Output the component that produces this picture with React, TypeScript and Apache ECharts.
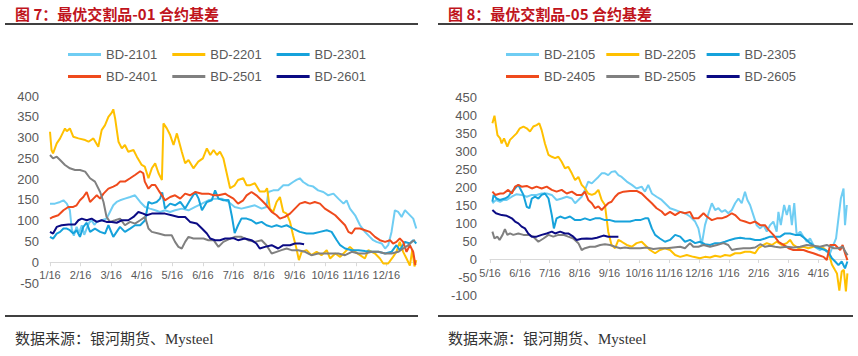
import React, { useEffect, useRef } from "react";
import * as echarts from "echarts";

// ---------- tick labels ----------
const monthsLeft = ["1/16", "2/16", "3/16", "4/16", "5/16", "6/16", "7/16", "8/16", "9/16", "10/16", "11/16", "12/16"];
const monthsRight = ["5/16", "6/16", "7/16", "8/16", "9/16", "10/16", "11/16", "12/16", "1/16", "2/16", "3/16", "4/16"];

// ---------- series names ----------
const namesLeft = ["BD-2101", "BD-2201", "BD-2301", "BD-2401", "BD-2501", "BD-2601"];
const namesRight = ["BD-2105", "BD-2205", "BD-2305", "BD-2405", "BD-2505", "BD-2605"];

// ---------- data: [month offset from x-axis start, basis] ----------
const bd2101 = [[0,141],[0.16,141],[0.33,145],[0.44,149],[0.55,141],[0.65,125],[0.71,81],[0.78,64],[0.87,85],[0.95,70],[1.04,89],[1.12,66],[1.2,81],[1.28,95],[1.36,101],[1.45,90],[1.53,97],[1.69,101],[1.85,105],[1.96,121],[2.07,137],[2.18,145],[2.29,149],[2.45,153],[2.62,157],[2.78,161],[2.95,145],[3.11,133],[3.27,129],[3.44,125],[3.6,121],[3.76,125],[3.93,121],[4.09,125],[4.31,129],[4.53,125],[4.75,133],[4.97,141],[5.18,149],[5.4,153],[5.62,153],[5.84,145],[6.04,133],[6.26,129],[6.48,133],[6.7,137],[6.92,129],[7.08,133],[7.14,169],[7.3,173],[7.46,173],[7.63,185],[7.79,185],[7.95,193],[8.06,198],[8.17,202],[8.28,193],[8.45,185],[8.61,182],[8.77,173],[8.94,169],[9.1,161],[9.27,165],[9.43,153],[9.6,141],[9.7,149],[9.81,129],[9.98,113],[10.14,89],[10.3,73],[10.46,61],[10.57,53],[10.68,49],[10.85,45],[10.96,33],[11.06,41],[11.17,73],[11.28,125],[11.39,121],[11.5,109],[11.61,125],[11.72,117],[11.88,105],[11.98,81]];
const bd2201 = [[0,314],[0.05,270],[0.1,262],[0.22,286],[0.33,298],[0.49,322],[0.55,315],[0.65,322],[0.76,302],[0.93,298],[1.15,294],[1.26,290],[1.42,298],[1.58,278],[1.69,318],[1.8,330],[1.91,350],[2.02,360],[2.07,368],[2.13,346],[2.2,310],[2.24,290],[2.35,274],[2.45,282],[2.56,266],[2.73,270],[2.84,254],[3.0,234],[3.1,230],[3.22,202],[3.33,226],[3.44,238],[3.55,214],[3.66,198],[3.71,334],[3.82,322],[3.93,306],[4.04,282],[4.15,310],[4.31,266],[4.42,238],[4.53,246],[4.69,226],[4.85,242],[5.0,250],[5.13,274],[5.24,258],[5.35,270],[5.46,258],[5.56,266],[5.67,250],[5.78,214],[5.89,178],[6.04,185],[6.15,198],[6.32,202],[6.43,185],[6.53,185],[6.7,190],[6.86,170],[7.03,170],[7.1,178],[7.19,129],[7.3,121],[7.41,145],[7.52,157],[7.63,121],[7.74,117],[7.85,97],[7.95,65],[8.06,33],[8.14,5],[8.23,25],[8.39,29],[8.55,17],[8.72,25],[8.88,17],[9.05,29],[9.16,9],[9.33,21],[9.49,13],[9.65,25],[9.81,37],[9.98,25],[10.14,17],[10.3,9],[10.41,29],[10.63,21],[10.79,9],[10.9,-3],[11.06,-3],[11.22,13],[11.33,25],[11.44,49],[11.55,25],[11.66,9],[11.77,-8],[11.85,30],[11.92,-10],[11.98,5]];
const bd2301 = [[0,61],[0.1,57],[0.22,69],[0.33,73],[0.44,81],[0.55,81],[0.65,77],[0.76,69],[0.87,77],[0.98,61],[1.09,85],[1.2,95],[1.31,73],[1.47,81],[1.64,73],[1.8,69],[1.91,89],[2.07,61],[2.18,73],[2.29,85],[2.45,73],[2.62,81],[2.78,89],[2.95,89],[3.11,101],[3.22,145],[3.33,141],[3.49,145],[3.6,153],[3.67,168],[3.76,129],[3.93,141],[4.09,137],[4.26,145],[4.42,129],[4.58,149],[4.75,169],[4.86,153],[4.97,125],[5.13,145],[5.29,149],[5.4,173],[5.51,153],[5.67,149],[5.84,150],[5.95,110],[6.04,70],[6.15,89],[6.26,105],[6.43,105],[6.59,101],[6.75,93],[6.92,97],[7.08,89],[7.25,85],[7.41,89],[7.57,85],[7.74,89],[7.95,81],[8.17,73],[8.39,69],[8.61,69],[8.83,73],[9.05,77],[9.21,73],[9.38,53],[9.49,41],[9.65,33],[9.87,29],[10.09,29],[10.3,27],[10.52,25],[10.74,25],[10.96,21],[11.17,25],[11.33,41],[11.44,29],[11.61,49],[11.77,45],[11.88,53],[11.98,45]];
const bd2401 = [[0,105],[0.1,109],[0.27,113],[0.44,125],[0.6,133],[0.76,133],[0.87,137],[0.98,149],[1.09,157],[1.2,169],[1.31,145],[1.42,153],[1.53,161],[1.64,153],[1.75,165],[1.91,177],[2.07,182],[2.18,186],[2.29,194],[2.45,194],[2.62,202],[2.78,210],[2.95,219],[3.05,214],[3.1,194],[3.22,177],[3.33,186],[3.44,186],[3.55,173],[3.66,161],[3.76,149],[3.93,157],[4.09,161],[4.26,153],[4.42,165],[4.58,161],[4.75,169],[4.97,165],[5.18,165],[5.35,161],[5.51,161],[5.73,165],[5.83,160],[6.0,153],[6.15,141],[6.32,149],[6.43,161],[6.59,169],[6.75,161],[6.92,149],[7.08,137],[7.25,121],[7.41,113],[7.52,105],[7.68,109],[7.85,117],[8.01,129],[8.17,141],[8.34,145],[8.5,141],[8.66,145],[8.83,141],[8.99,129],[9.16,121],[9.33,113],[9.49,101],[9.65,89],[9.76,73],[9.87,69],[9.98,81],[10.14,81],[10.3,77],[10.46,73],[10.63,61],[10.79,53],[10.96,49],[11.12,53],[11.22,45],[11.33,49],[11.44,57],[11.55,49],[11.66,25],[11.77,41],[11.88,25],[11.95,-7]];
const bd2501 = [[0,258],[0.1,250],[0.22,254],[0.33,246],[0.49,234],[0.65,226],[0.82,222],[0.98,222],[1.15,218],[1.31,202],[1.47,194],[1.64,169],[1.75,145],[1.85,109],[1.96,97],[2.13,101],[2.29,105],[2.45,89],[2.62,97],[2.78,93],[2.95,101],[3.11,109],[3.22,81],[3.33,73],[3.55,69],[3.76,65],[3.98,65],[4.09,49],[4.2,37],[4.31,33],[4.42,49],[4.53,61],[4.69,57],[4.86,57],[5.02,57],[5.18,53],[5.35,53],[5.51,37],[5.67,49],[5.84,55],[6.04,61],[6.26,61],[6.48,53],[6.7,49],[6.92,53],[7.08,41],[7.25,21],[7.41,25],[7.57,29],[7.74,33],[7.9,29],[8.12,29],[8.34,25],[8.55,17],[8.77,21],[8.99,21],[9.21,21],[9.43,21],[9.65,17],[9.87,25],[10.09,21],[10.3,21],[10.52,25],[10.74,25],[10.96,21],[11.17,21],[11.39,25],[11.55,33],[11.72,41],[11.83,49],[11.94,53]];
const bd2601 = [[0,73],[0.1,69],[0.22,85],[0.38,89],[0.6,91],[0.82,91],[0.93,101],[1.04,105],[1.2,101],[1.36,105],[1.53,97],[1.69,101],[1.85,97],[2.02,97],[2.18,95],[2.35,101],[2.56,101],[2.73,109],[2.89,121],[3.05,117],[3.16,113],[3.33,117],[3.55,117],[3.76,117],[3.98,113],[4.2,109],[4.42,109],[4.58,97],[4.8,93],[4.97,81],[5.13,69],[5.24,57],[5.4,53],[5.56,53],[5.73,57],[5.89,57],[6.0,58],[6.15,53],[6.37,57],[6.59,53],[6.75,45],[6.86,33],[7.03,37],[7.25,41],[7.46,33],[7.63,41],[7.85,41],[8.01,45],[8.17,45],[8.31,43]];

const bd2105 = [[0.08,155],[0.2,164],[0.34,159],[0.45,164],[0.56,164],[0.73,173],[0.89,180],[1.06,178],[1.23,173],[1.4,178],[1.56,178],[1.73,182],[1.9,182],[2.07,178],[2.23,164],[2.4,168],[2.57,173],[2.74,168],[2.85,155],[2.96,164],[3.07,173],[3.18,192],[3.29,215],[3.41,210],[3.52,219],[3.63,228],[3.74,238],[3.85,238],[3.96,233],[4.07,242],[4.19,244],[4.3,233],[4.41,228],[4.58,215],[4.75,206],[4.91,196],[5.08,201],[5.19,187],[5.3,206],[5.42,182],[5.58,173],[5.75,164],[5.86,155],[6.03,141],[6.2,136],[6.37,131],[6.53,127],[6.7,118],[6.87,104],[6.98,85],[7.09,39],[7.2,94],[7.32,127],[7.43,155],[7.54,136],[7.65,141],[7.76,131],[7.87,136],[7.98,127],[8.1,136],[8.21,155],[8.32,168],[8.43,155],[8.54,187],[8.62,164],[8.71,150],[8.82,122],[8.93,94],[9.05,85],[9.16,94],[9.27,76],[9.38,94],[9.49,104],[9.6,76],[9.66,131],[9.74,94],[9.85,150],[9.94,122],[10.03,150],[10.11,94],[10.19,155],[10.27,67],[10.39,76],[10.5,62],[10.61,48],[10.72,57],[10.83,39],[10.94,30],[11.05,25],[11.17,30],[11.28,20],[11.39,16],[11.5,39],[11.59,57],[11.67,113],[11.75,168],[11.84,196],[11.89,94],[11.95,150]];
const bd2205 = [[0.08,377],[0.15,398],[0.25,344],[0.34,335],[0.39,321],[0.47,335],[0.58,312],[0.67,331],[0.78,340],[0.89,349],[1.0,363],[1.12,368],[1.23,363],[1.34,354],[1.45,368],[1.56,372],[1.65,377],[1.73,358],[1.84,321],[1.96,289],[2.07,284],[2.18,280],[2.29,284],[2.4,270],[2.51,252],[2.62,256],[2.74,238],[2.85,219],[2.96,228],[3.07,206],[3.18,196],[3.29,182],[3.41,178],[3.52,182],[3.63,192],[3.74,164],[3.85,150],[3.96,76],[4.07,39],[4.19,30],[4.3,53],[4.41,48],[4.58,39],[4.75,34],[4.91,44],[5.08,48],[5.19,39],[5.36,25],[5.53,16],[5.69,25],[5.86,30],[6.03,25],[6.2,11],[6.37,6],[6.59,11],[6.81,6],[7.03,2],[7.2,6],[7.37,4],[7.54,9],[7.71,6],[7.87,11],[8.04,9],[8.21,16],[8.38,16],[8.54,20],[8.71,20],[8.88,16],[8.99,30],[9.16,39],[9.27,44],[9.44,39],[9.6,48],[9.77,39],[9.94,44],[10.05,53],[10.16,39],[10.33,30],[10.5,34],[10.66,30],[10.83,34],[10.99,34],[11.17,30],[11.33,20],[11.45,-15],[11.55,-30],[11.62,-40],[11.7,-88],[11.78,-35],[11.85,-30],[11.92,-90],[11.97,-40]];
const bd2305 = [[0.08,159],[0.12,178],[0.22,168],[0.33,164],[0.5,168],[0.61,173],[0.73,187],[0.84,196],[0.95,206],[1.01,196],[1.12,178],[1.23,145],[1.32,141],[1.4,168],[1.51,173],[1.62,168],[1.73,178],[1.84,182],[1.96,168],[2.07,122],[2.14,85],[2.23,113],[2.35,118],[2.51,113],[2.68,118],[2.85,108],[3.02,108],[3.18,113],[3.35,108],[3.52,113],[3.69,113],[3.85,108],[4.02,108],[4.19,104],[4.36,104],[4.52,104],[4.69,104],[4.86,108],[5.03,108],[5.19,113],[5.3,113],[5.42,85],[5.53,67],[5.69,57],[5.86,48],[6.03,53],[6.2,67],[6.37,62],[6.53,48],[6.7,53],[6.87,44],[7.03,48],[7.2,41],[7.37,39],[7.54,44],[7.71,44],[7.87,48],[8.04,53],[8.21,57],[8.38,59],[8.54,57],[8.71,56],[8.88,53],[9.05,53],[9.21,57],[9.38,62],[9.55,62],[9.72,62],[9.88,71],[10.05,71],[10.22,67],[10.39,67],[10.55,57],[10.72,44],[10.89,34],[11.05,30],[11.22,25],[11.33,20],[11.45,2],[11.56,-7],[11.67,-17],[11.78,-7],[11.89,-26],[11.97,-7]];
const bd2405 = [[0.08,187],[0.18,178],[0.34,182],[0.45,182],[0.61,192],[0.73,182],[0.84,201],[0.95,206],[1.06,201],[1.23,203],[1.4,196],[1.56,201],[1.73,196],[1.9,201],[2.07,192],[2.23,187],[2.4,192],[2.57,182],[2.74,187],[2.9,178],[3.07,178],[3.18,187],[3.29,164],[3.41,155],[3.52,141],[3.63,146],[3.74,136],[3.85,146],[3.96,155],[4.07,159],[4.19,173],[4.3,182],[4.47,187],[4.69,189],[4.91,189],[5.08,182],[5.25,168],[5.42,155],[5.58,141],[5.75,132],[5.86,122],[6.03,131],[6.2,122],[6.37,131],[6.53,127],[6.7,131],[6.81,113],[6.98,113],[7.15,127],[7.26,118],[7.43,108],[7.6,113],[7.76,113],[7.93,118],[8.1,127],[8.21,122],[8.38,108],[8.54,104],[8.71,99],[8.88,104],[9.05,94],[9.21,94],[9.33,81],[9.49,67],[9.66,48],[9.83,39],[10.0,30],[10.16,25],[10.33,25],[10.5,25],[10.66,20],[10.83,16],[10.99,11],[11.17,6],[11.28,-3],[11.39,39],[11.56,39],[11.73,25],[11.81,39],[11.89,16],[11.97,-3]];
const bd2505 = [[0.08,76],[0.15,57],[0.25,62],[0.32,53],[0.42,67],[0.5,83],[0.58,67],[0.67,71],[0.78,67],[0.95,71],[1.12,67],[1.28,67],[1.45,62],[1.62,48],[1.79,57],[1.96,67],[2.12,62],[2.29,67],[2.46,67],[2.62,62],[2.79,57],[2.96,44],[3.07,25],[3.18,30],[3.35,34],[3.52,34],[3.69,39],[3.85,41],[4.02,39],[4.19,34],[4.36,30],[4.52,32],[4.69,30],[4.86,30],[5.03,30],[5.25,32],[5.47,28],[5.69,30],[5.92,30],[6.14,32],[6.37,34],[6.53,30],[6.7,44],[6.81,34],[6.98,34],[7.15,39],[7.37,34],[7.6,39],[7.82,44],[7.98,39],[8.1,25],[8.26,28],[8.49,30],[8.71,30],[8.88,32],[9.05,41],[9.21,34],[9.38,37],[9.55,34],[9.72,32],[9.94,34],[10.16,32],[10.39,34],[10.61,39],[10.83,37],[11.05,34],[11.28,39],[11.5,30],[11.67,30],[11.81,34],[11.93,16],[11.98,11]];
const bd2605 = [[0.08,136],[0.2,127],[0.39,122],[0.56,120],[0.73,113],[0.84,104],[0.95,99],[1.06,90],[1.17,85],[1.28,71],[1.4,62],[1.56,62],[1.73,67],[1.9,71],[2.07,76],[2.18,71],[2.35,76],[2.51,71],[2.62,71],[2.79,62],[2.9,53],[3.07,56],[3.24,57],[3.41,56],[3.58,59],[3.8,65],[3.96,62],[4.13,62],[4.3,62]];

const dataLeft = [bd2101, bd2201, bd2301, bd2401, bd2501, bd2601];
const dataRight = [bd2105, bd2205, bd2305, bd2405, bd2505, bd2605];
const colors = ["#6FCDF3", "#FFC000", "#16A2DB", "#EF4A1C", "#808080", "#0B0B84"];

const LABEL = "#595959";
const SANS = "'Liberation Sans', Arial, sans-serif";

function xAxisFor(gridIndex: number, labels: string[], margin: number) {
  return {
    type: "value",
    gridIndex,
    min: 0,
    max: 11.99,
    interval: 1,
    axisLine: { onZero: true, lineStyle: { color: "#D9D9D9", width: 1 } },
    axisTick: { show: true, length: 4, lineStyle: { color: "#D9D9D9" } },
    splitLine: { show: false },
    axisLabel: {
      color: LABEL,
      fontSize: 11,
      fontFamily: SANS,
      margin,
      showMaxLabel: false,
      formatter: (v: number) => labels[Math.round(v)] ?? "",
    },
  };
}

function yAxisFor(gridIndex: number, min: number, max: number, margin: number) {
  return {
    type: "value",
    gridIndex,
    min,
    max,
    interval: 50,
    axisLine: { show: false },
    axisTick: { show: false },
    splitLine: { show: false },
    axisLabel: { color: LABEL, fontSize: 13, fontFamily: SANS, margin },
  };
}

function legendRow(names: string[], left: number, top: number, gap: number) {
  return {
    data: names,
    left,
    top,
    orient: "horizontal",
    icon: "rect",
    itemWidth: 33,
    itemHeight: 3,
    itemGap: gap,
    padding: 0,
    selectedMode: false,
    textStyle: { color: LABEL, fontSize: 13, fontFamily: SANS },
  };
}

export default function App() {
  const ref = useRef<HTMLDivElement>(null);

  useEffect(() => {
    document.body.style.margin = "0";
    if (!ref.current) return;
    const chart = echarts.init(ref.current, undefined, { renderer: "svg" });

    const series: any[] = [];
    namesLeft.forEach((n, i) =>
      series.push({
        name: n,
        type: "line",
        xAxisIndex: 0,
        yAxisIndex: 0,
        data: dataLeft[i],
        showSymbol: false,
        color: colors[i],
        lineStyle: { width: 2, color: colors[i] },
      })
    );
    namesRight.forEach((n, i) =>
      series.push({
        name: n,
        type: "line",
        xAxisIndex: 1,
        yAxisIndex: 1,
        data: dataRight[i],
        showSymbol: false,
        color: colors[i],
        lineStyle: { width: 2, color: colors[i] },
      })
    );

    const titleStyle = {
      fill: "#C0141C",
      font: "bold 15px 'Noto Sans CJK SC', sans-serif",
    };
    const srcStyle = {
      fill: "#333333",
      font: "15px 'Liberation Serif', 'Noto Sans CJK SC', serif",
    };

    chart.setOption({
      animation: false,
      backgroundColor: "#ffffff",
      grid: [
        { left: 50, top: 96, width: 366.6, height: 187 },
        { left: 490, top: 97, width: 358, height: 198 },
      ],
      xAxis: [xAxisFor(0, monthsLeft, -14), xAxisFor(1, monthsRight, -28)],
      yAxis: [yAxisFor(0, -50, 400, 11), yAxisFor(1, -100, 450, 13)],
      legend: [
        legendRow(namesLeft.slice(0, 3), 68, 48, 15),
        legendRow(namesLeft.slice(3), 68, 70, 15),
        legendRow(namesRight.slice(0, 3), 506, 48, 11),
        legendRow(namesRight.slice(3), 506, 70, 11),
      ],
      graphic: [
        { type: "text", left: 15, top: 6, style: { ...titleStyle, text: "图 7：最优交割品-01 合约基差" } },
        { type: "text", left: 448, top: 6, style: { ...titleStyle, text: "图 8：最优交割品-05 合约基差" } },
        { type: "line", shape: { x1: 5, y1: 24, x2: 418, y2: 24 }, style: { stroke: "#000000", lineWidth: 1.5 } },
        { type: "line", shape: { x1: 438, y1: 24, x2: 853, y2: 24 }, style: { stroke: "#000000", lineWidth: 1.5 } },
        { type: "line", shape: { x1: 5, y1: 316, x2: 418, y2: 316 }, style: { stroke: "#000000", lineWidth: 1.5 } },
        { type: "line", shape: { x1: 438, y1: 316, x2: 853, y2: 316 }, style: { stroke: "#000000", lineWidth: 1.5 } },
        { type: "text", left: 15, top: 331, style: { ...srcStyle, text: "数据来源：银河期货、Mysteel" } },
        { type: "text", left: 448, top: 331, style: { ...srcStyle, text: "数据来源：银河期货、Mysteel" } },
      ],
      series,
    });

    return () => chart.dispose();
  }, []);

  return <div ref={ref} style={{ width: 858, height: 356 }} />;
}
